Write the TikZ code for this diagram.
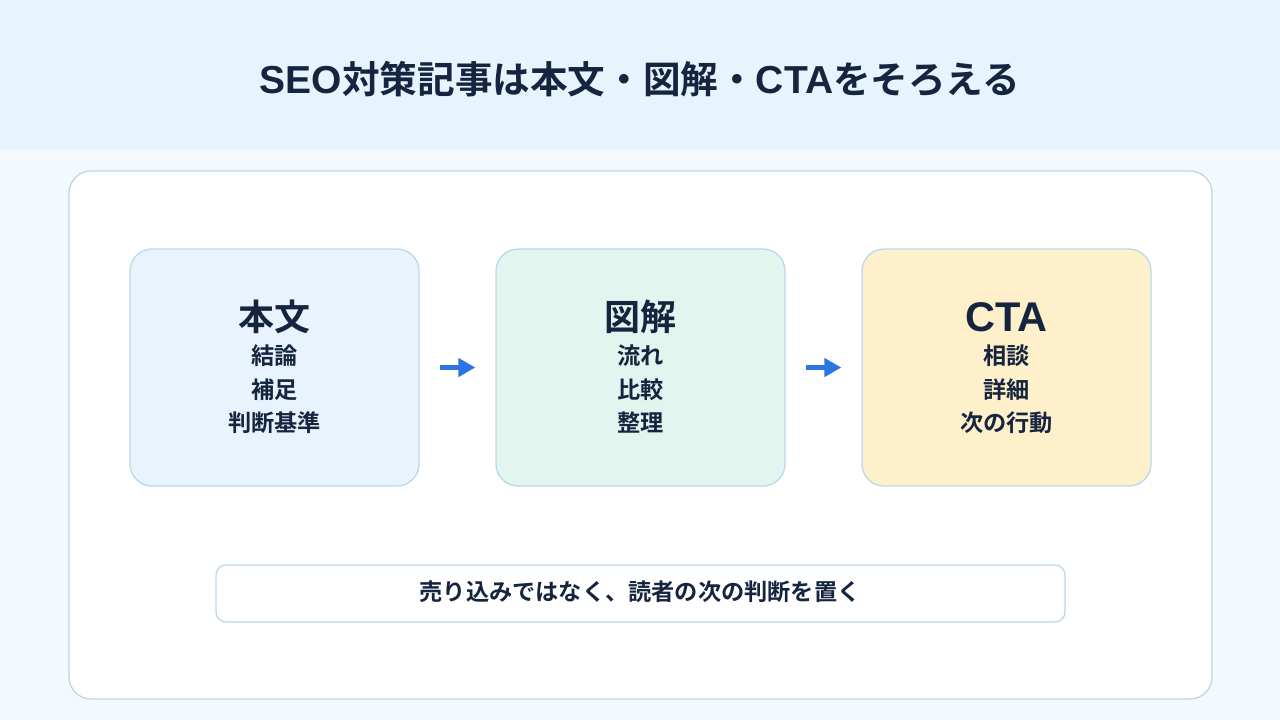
\documentclass[tikz,border=0pt]{standalone}
\usepackage{fontspec}
\setmainfont{Noto Sans CJK JP}
\newfontfamily\jpb{Noto Sans CJK JP Bold}
\newfontfamily\latb{Liberation Sans Bold}
\usetikzlibrary{arrows.meta}
\definecolor{hdr}{HTML}{E8F4FD}
\definecolor{bg}{HTML}{F4F9FD}
\definecolor{edge}{HTML}{BBD8EA}
\definecolor{ink}{HTML}{15253F}
\definecolor{fA}{HTML}{E8F3FD}
\definecolor{fB}{HTML}{E0F6EE}
\definecolor{fC}{HTML}{FEF0CB}
\definecolor{arr}{HTML}{2B74E2}
\tikzset{
  card/.style={draw=edge, line width=1.3pt, rounded corners=22pt},
  head/.style={text=ink, font=\jpb\fontsize{36}{40}\selectfont, inner sep=0pt},
  item/.style={text=ink, font=\jpb\fontsize{23.2}{26}\selectfont, inner sep=0pt},
  flow/.style={draw=arr, line width=4.5pt, -{Triangle[length=17pt,width=18pt]}, shorten <=20pt, shorten >=20pt}
}
\begin{document}
\begin{tikzpicture}[x=1pt,y=-1pt]
\useasboundingbox (0,0) rectangle (1280,720);
\fill[bg] (0,0) rectangle (1280,720);
\fill[hdr] (0,0) rectangle (1280,150);
\node[text=ink, font=\jpb\fontsize{37.6}{40}\selectfont, inner sep=0pt] (title) at (640,79) {{\latb\fontsize{39}{40}\selectfont SEO}対策記事は本文・図解・{\latb\fontsize{39}{40}\selectfont CTA}をそろえる};
\draw[card, fill=white] (69,171) rectangle (1212,699);
\node[card, fill=fA, minimum width=289pt, minimum height=237pt] (b1) at (274.5,367.5) {};
\node[card, fill=fB, minimum width=289pt, minimum height=237pt] (b2) at (640.5,367.5) {};
\node[card, fill=fC, minimum width=289pt, minimum height=237pt] (b3) at (1006.5,367.5) {};
\node[head] (h1) at (274.5,317) {本文};
\node[item] (a1) at (274.5,356) {結論};
\node[item] (a2) at (274.5,389.5) {補足};
\node[item] (a3) at (274.5,423) {判断基準};
\node[head] (h2) at (640.5,317) {図解};
\node[item] (c1) at (640.5,356) {流れ};
\node[item] (c2) at (640.5,389.5) {比較};
\node[item] (c3) at (640.5,423) {整理};
\node[head, font=\latb\fontsize{41.5}{42}\selectfont] (h3) at (1006.5,317) {CTA};
\node[item] (d1) at (1006.5,356) {相談};
\node[item] (d2) at (1006.5,389.5) {詳細};
\node[item] (d3) at (1006.5,423) {次の行動};
\draw[flow] (b1.east) -- (b2.west);
\draw[flow] (b2.east) -- (b3.west);
\node[draw=edge, line width=1.3pt, rounded corners=10pt, fill=white, minimum width=849pt, minimum height=57pt] (note) at (640.5,593.5) {};
\node[item] (notetext) at (640,592) {売り込みではなく、読者の次の判断を置く};
\end{tikzpicture}
\end{document}
